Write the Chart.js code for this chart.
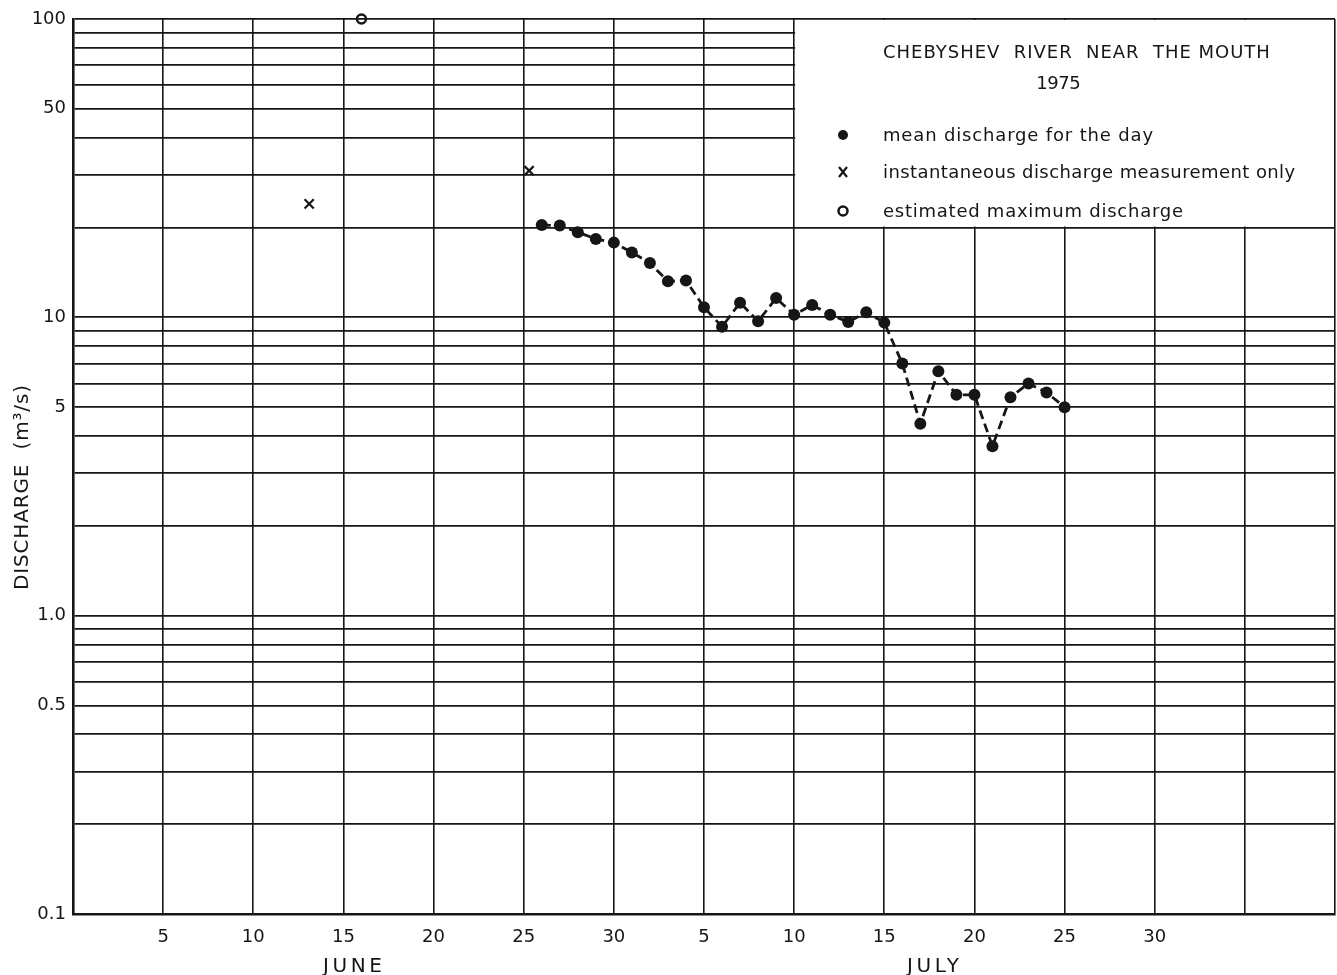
<!DOCTYPE html>
<html>
<head>
<meta charset="utf-8">
<title>Chebyshev River near the mouth, 1975</title>
<script src="https://cdn.jsdelivr.net/npm/chart.js@4.4.1/dist/chart.umd.min.js"></script>
<style>
  html, body { margin: 0; padding: 0; background: #ffffff; }
  #wrap { width: 1337px; height: 975px; }
</style>
</head>
<body>
<div id="wrap"><canvas id="chart" width="1337" height="975"></canvas></div>
<script>
// Day numbers count from 31 May (day 0): 1 June = 1, 1 July = 31.
const meanDays = [26, 27, 28, 29, 30, 31, 32, 33, 34, 35, 36, 37, 38, 39, 40,
                  41, 42, 43, 44, 45, 46, 47, 48, 49, 50, 51, 52, 53, 54, 55];
const meanFlow = [20.4, 20.3, 19.3, 18.3, 17.8, 16.5, 15.2, 13.2, 13.3, 10.8, 9.3, 11.2, 9.7, 11.6, 10.2,
                  11.0, 10.2, 9.65, 10.4, 9.6, 7.0, 4.4, 6.6, 5.5, 5.5, 3.7, 5.4, 6.0, 5.6, 5.0];

// spot measurements, plotted at the time of day they were taken
const measuredDays = [13.1, 25.3];
const measuredFlow = [24, 31];

const peakDays = [16];
const peakFlow = [100];

const dayTicks = [0, 5, 10, 15, 20, 25, 30, 35, 40, 45, 50, 55, 60, 65, 70];
const dayTickLabels = ['', '5', '10', '15', '20', '25', '30', '5', '10', '15', '20', '25', '30', '', ''];

const monthNames = ['JUNE', 'JULY'];
const monthCentres = [15.5, 47.7];

const flowTicks = [0.1, 0.2, 0.3, 0.4, 0.5, 0.6, 0.7, 0.8, 0.9,
                   1, 2, 3, 4, 5, 6, 7, 8, 9,
                   10, 20, 30, 40, 50, 60, 70, 80, 90, 100];
const flowLabelValues = [0.1, 0.5, 1, 5, 10, 50, 100];
const flowLabelTexts = ['0.1', '0.5', '1.0', '5', '10', '50', '100'];

const stationName = 'CHEBYSHEV  RIVER  NEAR  THE MOUTH';
const yearText = '1975';
const legendTexts = ['mean discharge for the day',
                     'instantaneous discharge measurement only',
                     'estimated maximum discharge'];
const axisTitle = 'DISCHARGE  (m\u00B3/s)';

const INK = '#161616';
const FONT = '"DejaVu Sans", sans-serif';

const toPoints = (xs, ys) => xs.map((x, i) => ({ x: x, y: ys[i] }));

// Draw text stretched with letter spacing so it spans a given width.
function spacedText(ctx, text, x, y, width, size, align) {
  ctx.save();
  ctx.font = size + 'px ' + FONT;
  ctx.letterSpacing = '0px';
  const natural = ctx.measureText(text).width;
  const gap = text.length > 1 ? (width - natural) / (text.length - 1) : 0;
  ctx.letterSpacing = gap.toFixed(2) + 'px';
  ctx.textAlign = 'left';
  let start = x;
  if (align === 'center') start = x - width / 2;
  ctx.fillText(text, start, y);
  ctx.restore();
}

const paperOverlay = {
  id: 'paperOverlay',
  beforeDatasetsDraw(chart) {
    const { ctx, chartArea, scales } = chart;
    const xs = scales.x, ys = scales.y;
    // blank panel in the upper right corner of the grid for the key
    const left = xs.getPixelForValue(40);
    const bottom = ys.getPixelForValue(20);
    ctx.save();
    ctx.fillStyle = '#ffffff';
    ctx.fillRect(left + 1, chartArea.top + 1, chartArea.right - left - 2, bottom - chartArea.top - 2);
    ctx.restore();
  },
  afterDraw(chart) {
    const { ctx, chartArea, scales } = chart;
    const xs = scales.x;
    ctx.save();
    ctx.fillStyle = INK;
    ctx.strokeStyle = INK;

    // key panel
    spacedText(ctx, stationName, 1076.5, 57.5, 387, 18, 'center');
    spacedText(ctx, yearText, 1058.5, 89, 44.5, 18, 'center');

    const markX = 843;
    const rowY = [135, 172, 211];
    // filled dot
    ctx.beginPath();
    ctx.arc(markX, rowY[0], 5, 0, Math.PI * 2);
    ctx.fill();
    // cross
    ctx.lineWidth = 2.2;
    ctx.beginPath();
    ctx.moveTo(markX - 4, rowY[1] - 5); ctx.lineTo(markX + 4, rowY[1] + 5);
    ctx.moveTo(markX + 4, rowY[1] - 5); ctx.lineTo(markX - 4, rowY[1] + 5);
    ctx.stroke();
    // open circle
    ctx.lineWidth = 2.5;
    ctx.beginPath();
    ctx.arc(markX, rowY[2], 4.5, 0, Math.PI * 2);
    ctx.stroke();

    const widths = [270, 412, 300];
    legendTexts.forEach((t, i) => spacedText(ctx, t, 883, rowY[i] + 5.5, widths[i], 18, 'left'));

    // month names under the day labels
    const monthWidths = [59, 52];
    monthNames.forEach((m, i) => {
      spacedText(ctx, m, xs.getPixelForValue(monthCentres[i]), 972, monthWidths[i], 20, 'center');
    });

    // vertical axis title
    ctx.save();
    ctx.translate(28, (chartArea.top + chartArea.bottom) / 2 + 21);
    ctx.rotate(-Math.PI / 2);
    spacedText(ctx, axisTitle, 0, 0, 205, 20, 'center');
    ctx.restore();

    ctx.restore();
  }
};

new Chart(document.getElementById('chart'), {
  type: 'scatter',
  data: {
    datasets: [
      {
        label: legendTexts[0],
        data: toPoints(meanDays, meanFlow),
        showLine: true,
        borderColor: INK,
        borderWidth: 2.8,
        borderDash: [9, 5],
        pointRadius: 6,
        pointBackgroundColor: INK,
        pointBorderWidth: 0,
        pointStyle: 'circle',
        clip: false
      },
      {
        label: legendTexts[1],
        data: toPoints(measuredDays, measuredFlow),
        showLine: false,
        pointStyle: 'crossRot',
        pointRadius: 6.5,
        pointBorderColor: INK,
        pointBorderWidth: 2.2,
        clip: false
      },
      {
        label: legendTexts[2],
        data: toPoints(peakDays, peakFlow),
        showLine: false,
        pointStyle: 'circle',
        pointRadius: 4.5,
        pointBackgroundColor: 'rgba(0,0,0,0)',
        pointBorderColor: INK,
        pointBorderWidth: 2.5,
        clip: false
      }
    ]
  },
  options: {
    responsive: false,
    animation: false,
    devicePixelRatio: 1,
    layout: { autoPadding: false, padding: { top: 19, right: 2, left: 0, bottom: 0 } },
    plugins: {
      legend: { display: false },
      title: { display: false },
      tooltip: { enabled: false }
    },
    scales: {
      x: {
        type: 'linear',
        min: 0,
        max: 70,
        afterBuildTicks: (scale) => { scale.ticks = dayTicks.map(v => ({ value: v })); },
        afterFit: (scale) => {
          scale.height = 61;
          scale.paddingLeft = 0;
          scale.paddingRight = 0;
        },
        ticks: {
          autoSkip: false,
          maxRotation: 0,
          padding: 13,
          color: INK,
          font: { family: FONT, size: 18 },
          callback: (value) => dayTickLabels[dayTicks.indexOf(value)]
        },
        grid: { color: INK, lineWidth: 1.6, drawTicks: false },
        border: { display: true, color: INK, width: 2.6 }
      },
      y: {
        type: 'logarithmic',
        min: 0.1,
        max: 100,
        afterBuildTicks: (scale) => { scale.ticks = flowTicks.map(v => ({ value: v })); },
        afterFit: (scale) => { scale.width = 73; },
        ticks: {
          autoSkip: false,
          padding: 7,
          color: INK,
          font: { family: FONT, size: 18 },
          callback: (value) => {
            const i = flowLabelValues.findIndex(v => Math.abs(v - value) < 1e-9);
            return i >= 0 ? flowLabelTexts[i] : '';
          }
        },
        grid: { color: INK, lineWidth: 1.8, drawTicks: false },
        border: { display: true, color: INK, width: 2.6 }
      }
    }
  },
  plugins: [paperOverlay]
});
</script>
</body>
</html>
